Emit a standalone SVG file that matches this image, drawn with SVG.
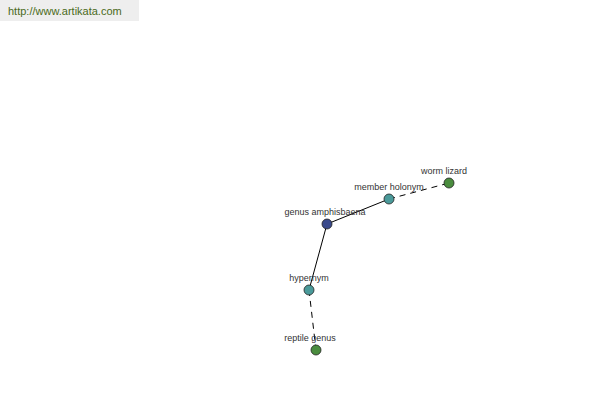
<svg xmlns="http://www.w3.org/2000/svg" width="600" height="400" viewBox="0 0 600 400">
<style>
.lbl{font-family:"Liberation Sans",Arial,sans-serif;font-size:9px;fill:#333;text-anchor:middle}
.n{stroke:#222;stroke-width:0.8}
.e{stroke:#000;stroke-width:1;fill:none}
.d{stroke-dasharray:6,5}
</style>
<rect x="0" y="0" width="139" height="21" fill="#eeeeee"/>
<text x="8" y="15" font-family="Liberation Sans,Arial,sans-serif" font-size="11" fill="#4a6a1a">http://www.artikata.com</text>
<g id="connectors">
<line class="e" x1="327" y1="224" x2="389" y2="199"/>
<line class="e d" x1="389" y1="199" x2="449" y2="183"/>
<line class="e" x1="327" y1="224" x2="309" y2="290"/>
<line class="e d" x1="309" y1="290" x2="316" y2="350"/>
</g>
<g id="genus-amphisbaena"><circle class="n" cx="327" cy="224" r="5" fill="#3a4a8c"/><text class="lbl" x="325" y="215">genus amphisbaena</text></g>
<g id="member-holonym"><circle class="n" cx="389" cy="199" r="5" fill="#4a9a9a"/><text class="lbl" x="389" y="190">member holonym</text></g>
<g id="worm-lizard"><circle class="n" cx="449" cy="183" r="5" fill="#4a8c3e"/><text class="lbl" x="444" y="174">worm lizard</text></g>
<g id="hypernym"><circle class="n" cx="309" cy="290" r="5" fill="#4a9a9a"/><text class="lbl" x="309" y="281">hypernym</text></g>
<g id="reptile-genus"><circle class="n" cx="316" cy="350" r="5" fill="#4a8c3e"/><text class="lbl" x="310" y="341">reptile genus</text></g>
</svg>
